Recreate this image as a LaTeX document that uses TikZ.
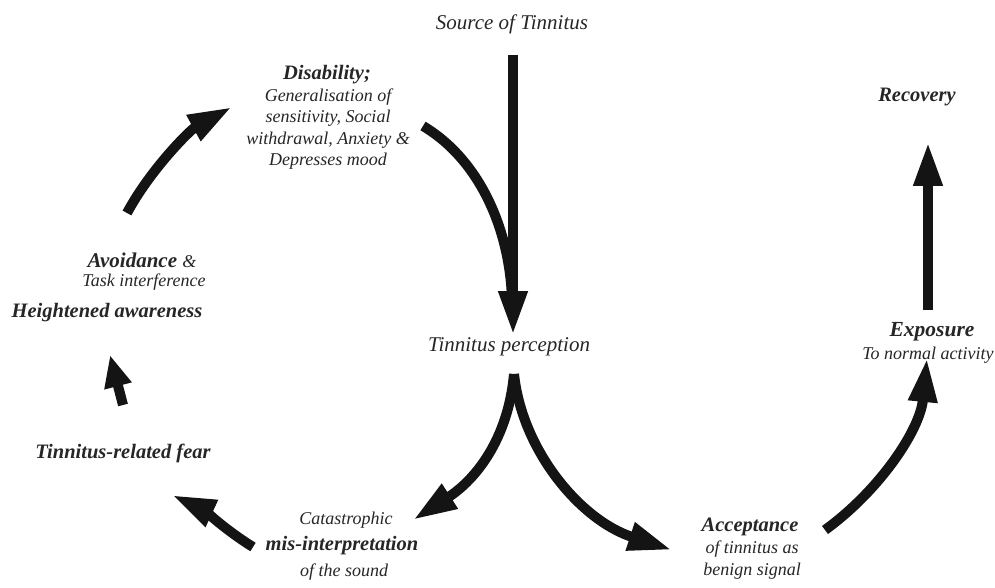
\documentclass[tikz,border=0pt]{standalone}
\usepackage{fontspec}
\setmainfont{Liberation Serif}
\usetikzlibrary{arrows.meta}
\begin{document}
\begin{tikzpicture}[x=1pt,y=-1pt,
  arr/.style={line width=10pt, draw=black!92, -{Triangle[length=44pt,width=27pt]}},
  shortarr/.style={line width=10pt, draw=black!92, -{Triangle[length=32pt,width=26pt]}},
  shaft/.style={line width=10pt, draw=black!92},
  big/.style={font=\fontsize{21}{24}\selectfont\itshape, text=black!85, align=center, inner sep=0pt},
  bigb/.style={font=\fontsize{20.5}{24}\selectfont\bfseries\itshape, text=black!85, align=center, inner sep=0pt},
  small/.style={font=\fontsize{18}{21.5}\selectfont\itshape, text=black!85, align=center, inner sep=0pt}]
\useasboundingbox (0,0) rectangle (995,588);

% labels
\node[big] (src) at (512,24) {Source of Tinnitus};
\node[big] (perc) at (509,347) {Tinnitus perception};
\node[bigb] (dis) at (327,75) {Disability;};
\node[small] (disb) at (328,129) {Generalisation of\\sensitivity, Social\\withdrawal, Anxiety \&\\Depresses mood};
\node[big] (avo) at (142,260) {\textbf{Avoidance} {\fontsize{18}{20}\selectfont\&}};
\node[small] (task) at (144,282) {Task interference};
\node[bigb] (hei) at (107,313) {Heightened awareness};
\node[bigb] (fear) at (123,453) {Tinnitus-related fear};
\node[small] (cat) at (346,520) {Catastrophic};
\node[bigb] (mis) at (342,546) {mis-interpretation};
\node[small] (snd) at (344,572) {of the sound};
\node[bigb] (acc) at (750,527) {Acceptance};
\node[small] (accb) at (752,560) {of tinnitus as\\benign signal};
\node[bigb, font=\fontsize{21.5}{24}\selectfont\bfseries\itshape] (exp) at (932,332) {Exposure};
\node[small] (expb) at (928,355) {To normal activity};
\node[bigb] (rec) at (917,97) {Recovery};

% connector end points
\coordinate (srcS) at (513,55);
\coordinate (percN) at (513,335);
\coordinate (disS) at (423,126);
\coordinate (merge) at (512,300);
\coordinate (percS) at (514,374);
\coordinate (catN) at (413,520);
\coordinate (accW) at (672,550);
\coordinate (misW) at (253,547);
\coordinate (fearS) at (172,495);
\coordinate (fearN) at (123,405);
\coordinate (heiS) at (110,355);
\coordinate (avoN) at (127,213);
\coordinate (disW) at (232,107);
\coordinate (accE) at (825,530);
\coordinate (expS) at (927,358);
\coordinate (expN) at (928,310);
\coordinate (recS) at (928,142);

% connectors
\draw[arr] (srcS) -- (percN);
\draw[shaft] (disS) .. controls (480,160) and (510,230) .. (merge);
\draw[arr] (percS) .. controls (508,440) and (475,480) .. (catN);
\draw[arr] (percS) .. controls (522,450) and (580,520) .. (accW);
\draw[arr] (misW) .. controls (230,533) and (200,508) .. (fearS);
\draw[shortarr] (fearN) -- (heiS);
\draw[arr] (avoN) .. controls (150,170) and (190,130) .. (disW);
\draw[arr] (accE) .. controls (880,490) and (920,430) .. (expS);
\draw[arr] (expN) -- (recS);
\end{tikzpicture}
\end{document}
